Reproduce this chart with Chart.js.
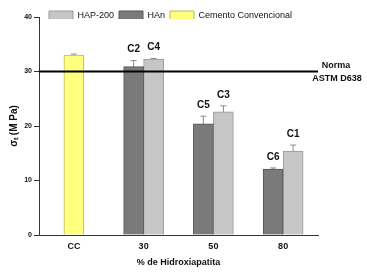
<!DOCTYPE html>
<html>
<head>
<meta charset="utf-8">
<script src="https://cdn.jsdelivr.net/npm/chart.js@4"></script>
<style>
  html, body { margin: 0; padding: 0; background: #fff; }
  #wrap { width: 367px; height: 273px; }
</style>
</head>
<body>
<div id="wrap"><canvas id="chart" width="367" height="273"></canvas></div>
<script>
const categories = ["CC", "30", "50", "80"];
const hanValues = [null, 30.9, 20.4, 12.1];
const hanErrors = [null, 1.1, 1.4, 0.2];
const hapValues = [null, 32.3, 22.6, 15.4];
const hapErrors = [null, 0.1, 1.1, 1.1];
const ccValues = [33.0, null, null, null];
const ccErrors = [0.2, null, null, null];
const hanLabels = [null, "C2", "C5", "C6"];
const hapLabels = [null, "C4", "C3", "C1"];
const yTicks = [0, 10, 20, 30, 40];
const normaValue = 30;
const legendOrder = ["HAP-200", "HAn", "Cemento Convencional"];

const FONT = "'Liberation Sans', Arial, sans-serif";

// error bars drawn before the bars so only the upper half shows
const errorBars = {
  id: "errorBars",
  beforeDatasetsDraw(chart) {
    const ctx = chart.ctx;
    const y = chart.scales.y;
    ctx.save();
    ctx.strokeStyle = "#8a8a8a";
    ctx.lineWidth = 1;
    chart.data.datasets.forEach((ds, i) => {
      const meta = chart.getDatasetMeta(i);
      meta.data.forEach((bar, j) => {
        const v = ds.data[j];
        const e = ds.errors[j];
        if (v == null || e == null) return;
        const top = y.getPixelForValue(v + e);
        const bot = y.getPixelForValue(v - e);
        ctx.beginPath();
        ctx.moveTo(bar.x, bot);
        ctx.lineTo(bar.x, top);
        ctx.moveTo(bar.x - 3, top);
        ctx.lineTo(bar.x + 3, top);
        ctx.stroke();
      });
    });
    ctx.restore();
  }
};

// the legend sits tight against the plot, as in the original
const legendFit = {
  id: "legendFit",
  afterInit(chart) {
    const lg = chart.legend;
    if (!lg) return;
    const fit = lg.fit.bind(lg);
    lg.fit = function () {
      fit();
      this.height = Math.max(0, this.height - 12);
    };
  },
  afterLayout(chart) {
    const lg = chart.legend;
    if (!lg) return;
    lg.left += 5;
    lg.right += 5;
    lg.top += 2;
    lg.bottom += 2;
  }
};

const extras = {
  id: "extras",
  afterDatasetsDraw(chart) {
    const ctx = chart.ctx;
    const y = chart.scales.y;
    const area = chart.chartArea;
    ctx.save();
    // sample labels
    ctx.fillStyle = "#111";
    ctx.font = "bold 10px " + FONT;
    ctx.textAlign = "center";
    ctx.textBaseline = "bottom";
    chart.data.datasets.forEach((ds, i) => {
      if (!ds.tags) return;
      const meta = chart.getDatasetMeta(i);
      meta.data.forEach((bar, j) => {
        const t = ds.tags[j];
        if (!t) return;
        const v = ds.data[j] + (ds.errors[j] || 0);
        ctx.fillText(t, bar.x, y.getPixelForValue(v) - 6);
      });
    });
    // norm line
    const ny = y.getPixelForValue(normaValue);
    ctx.strokeStyle = "#000";
    ctx.lineWidth = 2;
    ctx.beginPath();
    ctx.moveTo(area.left, ny);
    ctx.lineTo(area.right, ny);
    ctx.stroke();
    ctx.font = "bold 9px " + FONT;
    ctx.textBaseline = "middle";
    ctx.fillText("Norma", area.right + 18, ny - 6);
    ctx.fillText("ASTM D638", area.right + 19, ny + 7);
    ctx.restore();
  }
};

new Chart(document.getElementById("chart"), {
  type: "bar",
  data: {
    labels: categories,
    datasets: [
      {
        label: "HAn",
        data: hanValues,
        errors: hanErrors,
        tags: hanLabels,
        backgroundColor: "#7a7a7a",
        borderColor: "#555",
        borderWidth: 1
      },
      {
        label: "HAP-200",
        data: hapValues,
        errors: hapErrors,
        tags: hapLabels,
        backgroundColor: "#c6c6c6",
        borderColor: "#999",
        borderWidth: 1
      },
      {
        label: "Cemento Convencional",
        data: ccValues,
        errors: ccErrors,
        backgroundColor: "#ffff80",
        borderColor: "#b8b860",
        borderWidth: 1
      }
    ]
  },
  options: {
    responsive: false,
    animation: false,
    devicePixelRatio: 1,
    skipNull: true,
    barThickness: 20,
    layout: { padding: { left: 4, right: 49, top: 4, bottom: 6 } },
    plugins: {
      legend: {
        position: "top",
        fullSize: false,
        align: "start",
        labels: {
          boxWidth: 24,
          boxHeight: 10,
          padding: 5,
          color: "#111",
          font: { family: FONT, size: 9 },
          sort: (a, b) => legendOrder.indexOf(a.text) - legendOrder.indexOf(b.text)
        }
      },
      tooltip: { enabled: false }
    },
    scales: {
      x: {
        grid: { display: false, drawTicks: false, tickLength: 0 },
        border: { color: "#333", width: 1 },
        ticks: { color: "#111", font: { family: FONT, size: 9, weight: "bold", lineHeight: 1 }, padding: 7 },
        title: {
          display: true,
          text: "% de Hidroxiapatita",
          color: "#111",
          font: { family: FONT, size: 9, weight: "bold", lineHeight: 1 },
          padding: { top: 0, bottom: 0 }
        }
      },
      y: {
        min: 0,
        max: 40,
        afterBuildTicks: (scale) => { scale.ticks = yTicks.map(v => ({ value: v })); },
        afterFit: (scale) => { scale.width = 35; },
        grid: { drawOnChartArea: false, tickLength: 5, color: "#333" },
        border: { color: "#333", width: 1 },
        ticks: { color: "#111", font: { family: FONT, size: 7, weight: "bold" }, padding: 2 },
        title: {
          display: true,
          text: "σₜ (M Pa)",
          color: "#111",
          font: { family: FONT, size: 10, weight: "bold" },
          padding: { top: 4, bottom: 4 }
        }
      }
    }
  },
  plugins: [errorBars, legendFit, extras]
});
</script>
</body>
</html>
